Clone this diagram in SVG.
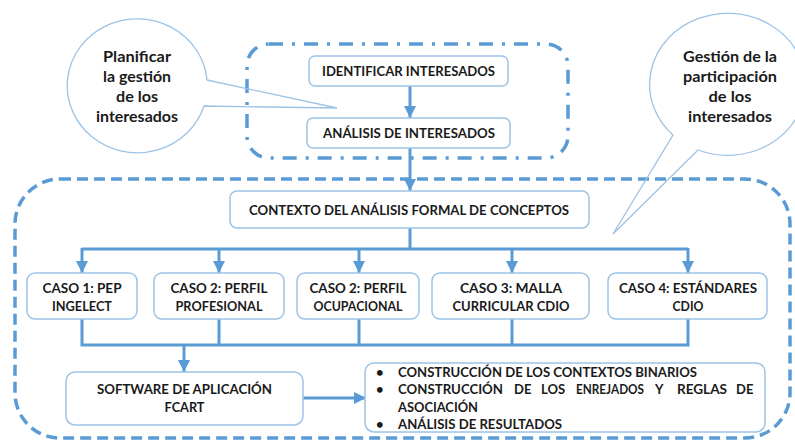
<svg xmlns="http://www.w3.org/2000/svg" width="795" height="441" viewBox="0 0 795 441">
<defs>
<style>
.box{fill:#fff;stroke:#9dc3e6;stroke-width:1.5}
.t{font-family:Lato,"Liberation Sans",sans-serif;font-weight:bold;font-size:13px;fill:#1a1a1a;text-anchor:middle}
.tl{font-family:Lato,"Liberation Sans",sans-serif;font-weight:bold;font-size:13px;fill:#1a1a1a}
.bt{font-family:Lato,"Liberation Sans",sans-serif;font-weight:bold;font-size:15px;fill:#1a1a1a;text-anchor:middle}
.bub{fill:none;stroke:#9dc3e6;stroke-width:1.3}
.con{fill:none;stroke:#5b9bd5;stroke-width:3}
</style>
<marker id="ah" viewBox="0 0 10 10" refX="10" refY="5" markerWidth="12" markerHeight="12" markerUnits="userSpaceOnUse" orient="auto">
<path d="M0 0 L10 5 L0 10 Z" fill="#5b9bd5"/>
</marker>
</defs>
<rect width="795" height="441" fill="#fff"/>
<g id="group-outer">
<rect x="15" y="179" width="775" height="259" rx="45" fill="none" stroke="#5b9bd5" stroke-width="3.5" stroke-dasharray="11 6"/>
</g>
<g id="group-top">
<rect x="247" y="44" width="321" height="114" rx="22" fill="none" stroke="#5b9bd5" stroke-width="3.5" stroke-dasharray="14 9 3 9"/>
</g>
<g id="connectors">
<line class="con" x1="410" y1="86" x2="410" y2="118" marker-end="url(#ah)"/>
<line class="con" x1="410" y1="148" x2="410" y2="191" marker-end="url(#ah)"/>
<line class="con" x1="410" y1="228" x2="410" y2="249"/>
<line class="con" x1="82" y1="249" x2="688" y2="249"/>
<line class="con" x1="82" y1="248" x2="82" y2="273" marker-end="url(#ah)"/>
<line class="con" x1="219" y1="248" x2="219" y2="273" marker-end="url(#ah)"/>
<line class="con" x1="359" y1="248" x2="359" y2="273" marker-end="url(#ah)"/>
<line class="con" x1="512" y1="248" x2="512" y2="273" marker-end="url(#ah)"/>
<line class="con" x1="688" y1="248" x2="688" y2="273" marker-end="url(#ah)"/>
<path class="con" d="M82 319 V345 H688 V319 M219 319 V345 M359 319 V345 M512 319 V345"/>
<line class="con" x1="184" y1="345" x2="184" y2="372" marker-end="url(#ah)"/>
<line class="con" x1="303" y1="398" x2="366" y2="398" marker-end="url(#ah)"/>
</g>
<g id="bubble-left">
<path class="bub" d="M207 80 L337 108 L204 106 A70 67 0 1 1 207 80 Z"/>
<text class="bt" x="137" y="62" textLength="68" lengthAdjust="spacingAndGlyphs">Planificar</text>
<text class="bt" x="137" y="82" textLength="68" lengthAdjust="spacingAndGlyphs">la gestión</text>
<text class="bt" x="137" y="102" textLength="42" lengthAdjust="spacingAndGlyphs">de los</text>
<text class="bt" x="137" y="122" textLength="82" lengthAdjust="spacingAndGlyphs">interesados</text>
</g>
<g id="bubble-right">
<path class="bub" d="M698 150 L613 234 L673 135 A78 71 0 1 1 698 150 Z"/>
<text class="bt" x="730" y="62" textLength="94" lengthAdjust="spacingAndGlyphs">Gestión de la</text>
<text class="bt" x="730" y="82" textLength="94" lengthAdjust="spacingAndGlyphs">participación</text>
<text class="bt" x="730" y="102" textLength="43" lengthAdjust="spacingAndGlyphs">de los</text>
<text class="bt" x="730" y="122" textLength="84" lengthAdjust="spacingAndGlyphs">interesados</text>
</g>
<g id="node-identificar">
<rect class="box" x="309" y="56" width="199" height="30" rx="6"/>
<text class="t" x="408.5" y="76" textLength="173" lengthAdjust="spacingAndGlyphs">IDENTIFICAR INTERESADOS</text>
</g>
<g id="node-analisis">
<rect class="box" x="307" y="118" width="203" height="30" rx="6"/>
<text class="t" x="409" y="138" textLength="172" lengthAdjust="spacingAndGlyphs">ANÁLISIS DE INTERESADOS</text>
</g>
<g id="node-contexto">
<rect class="box" x="230" y="191" width="359" height="37" rx="7"/>
<text class="t" x="409" y="215" textLength="320" lengthAdjust="spacingAndGlyphs">CONTEXTO DEL ANÁLISIS FORMAL DE CONCEPTOS</text>
</g>
<g id="node-caso1">
<rect class="box" x="27" y="273" width="110" height="46" rx="8"/>
<text class="t" x="82" y="292.5" textLength="79" lengthAdjust="spacingAndGlyphs">CASO 1: PEP</text>
<text class="t" x="82" y="310.5" textLength="60" lengthAdjust="spacingAndGlyphs">INGELECT</text>
</g>
<g id="node-caso2a">
<rect class="box" x="154" y="273" width="130" height="46" rx="8"/>
<text class="t" x="219" y="292.5" textLength="97" lengthAdjust="spacingAndGlyphs">CASO 2: PERFIL</text>
<text class="t" x="219" y="310.5" textLength="87" lengthAdjust="spacingAndGlyphs">PROFESIONAL</text>
</g>
<g id="node-caso2b">
<rect class="box" x="297" y="273" width="122" height="46" rx="8"/>
<text class="t" x="358" y="292.5" textLength="97" lengthAdjust="spacingAndGlyphs">CASO 2: PERFIL</text>
<text class="t" x="358" y="310.5" textLength="89" lengthAdjust="spacingAndGlyphs">OCUPACIONAL</text>
</g>
<g id="node-caso3">
<rect class="box" x="432" y="273" width="157" height="46" rx="8"/>
<text class="t" x="511" y="292.5" textLength="102" lengthAdjust="spacingAndGlyphs">CASO 3: MALLA</text>
<text class="t" x="511" y="310.5" textLength="117" lengthAdjust="spacingAndGlyphs">CURRICULAR CDIO</text>
</g>
<g id="node-caso4">
<rect class="box" x="608" y="273" width="159" height="46" rx="8"/>
<text class="t" x="688" y="292.5" textLength="138" lengthAdjust="spacingAndGlyphs">CASO 4: ESTÁNDARES</text>
<text class="t" x="688" y="310.5" textLength="31" lengthAdjust="spacingAndGlyphs">CDIO</text>
</g>
<g id="node-software">
<rect class="box" x="66" y="372" width="237" height="53" rx="9"/>
<text class="t" x="184.5" y="394" textLength="175" lengthAdjust="spacingAndGlyphs">SOFTWARE DE APLICACIÓN</text>
<text class="t" x="184.5" y="411.5" textLength="40" lengthAdjust="spacingAndGlyphs">FCART</text>
</g>
<g id="node-resultados">
<rect class="box" x="365" y="363" width="400" height="69" rx="9"/>
<text class="tl" x="376" y="376.5">•</text>
<text class="tl" x="376" y="394">•</text>
<text class="tl" x="376" y="429">•</text>
<text class="tl" x="398" y="376.5" textLength="299" lengthAdjust="spacingAndGlyphs">CONSTRUCCIÓN DE LOS CONTEXTOS BINARIOS</text>
<text class="tl" y="394"><tspan x="398" textLength="105" lengthAdjust="spacingAndGlyphs">CONSTRUCCIÓN</tspan><tspan x="514">DE</tspan><tspan x="541">LOS</tspan><tspan x="576" textLength="68" lengthAdjust="spacingAndGlyphs">ENREJADOS</tspan><tspan x="655">Y</tspan><tspan x="677" textLength="50" lengthAdjust="spacingAndGlyphs">REGLAS</tspan><tspan x="736">DE</tspan></text>
<text class="tl" x="398" y="411.5" textLength="80" lengthAdjust="spacingAndGlyphs">ASOCIACIÓN</text>
<text class="tl" x="398" y="429" textLength="164" lengthAdjust="spacingAndGlyphs">ANÁLISIS DE RESULTADOS</text>
</g>
</svg>
